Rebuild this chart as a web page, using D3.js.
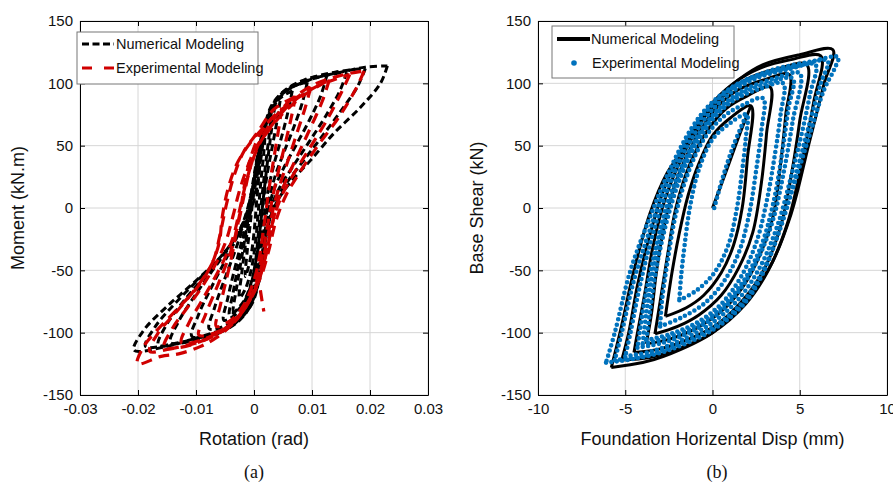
<!DOCTYPE html>
<html><head><meta charset="utf-8">
<script src="https://cdn.jsdelivr.net/npm/d3@7"></script>
<style>body{margin:0;background:#fff}svg{display:block}</style>
</head><body>
<svg id="c" width="893" height="484"></svg>
<script>
// ---------- DATA ----------
const xTicksA = [-0.03,-0.02,-0.01,0,0.01,0.02,0.03];
const xTickLabelsA = ["-0.03","-0.02","-0.01","0","0.01","0.02","0.03"];
const yTicks = [-150,-100,-50,0,50,100,150];
const yTickLabels = ["-150","-100","-50","0","50","100","150"];
const xTicksB = [-10,-5,0,5,10];
const xTickLabelsB = ["-10","-5","0","5","10"];

// Panel (a): Moment (kN.m) vs Rotation (rad)
const numLoopsA = [
 [[0.023,114],[0.0218,100],[0.0184,81],[0.0138,60],[0.0097,38],[0.0069,24],[0.0046,10],[0.0030,-5],[0.0018,-30],[0.0008,-60],[-0.0015,-85],[-0.005,-98],[-0.0104,-105],[-0.015,-111],[-0.0207,-114],
  [-0.019,-98],[-0.015,-79],[-0.0104,-60],[-0.0063,-42],[-0.0035,-26],[-0.0012,-10],[0.0002,10],[0.0012,40],[0.0023,70],[0.0051,92],[0.0097,103],[0.015,109],[0.0192,113],[0.023,114]],
 [[0.0192,112],[0.0178,97],[0.0150,78],[0.0115,56],[0.0082,36],[0.0056,20],[0.0036,5],[0.0022,-20],[0.0012,-50],[-0.0005,-78],[-0.004,-94],[-0.009,-103],[-0.014,-109],[-0.0187,-111],
  [-0.017,-95],[-0.0135,-76],[-0.0095,-57],[-0.0058,-40],[-0.003,-22],[-0.001,-5],[0.0003,20],[0.0013,48],[0.0026,75],[0.005,93],[0.009,103],[0.014,109],[0.0192,112]],
 [[0.016,109],[0.0148,94],[0.0124,74],[0.0095,53],[0.0068,34],[0.0045,17],[0.0029,0],[0.0018,-28],[0.0008,-58],[-0.0008,-80],[-0.004,-95],[-0.008,-103],[-0.0125,-108],[-0.0165,-110],
  [-0.015,-93],[-0.012,-74],[-0.0085,-55],[-0.0052,-37],[-0.0027,-20],[-0.0008,0],[0.0004,28],[0.0015,55],[0.0028,78],[0.005,92],[0.0085,101],[0.012,106],[0.016,109]],
 [[0.0126,107],[0.0115,90],[0.0095,70],[0.0072,50],[0.005,31],[0.0033,13],[0.0022,-10],[0.0013,-40],[0.0003,-66],[-0.002,-86],[-0.0055,-99],[-0.0095,-105],[-0.0144,-108],
  [-0.013,-91],[-0.0103,-71],[-0.0073,-51],[-0.0045,-33],[-0.0022,-15],[-0.0006,5],[0.0005,33],[0.0016,60],[0.003,82],[0.0055,95],[0.0088,103],[0.0126,107]],
 [[0.0092,101],[0.0083,84],[0.0068,64],[0.0051,44],[0.0036,25],[0.0025,5],[0.0016,-22],[0.0008,-50],[-0.0004,-72],[-0.0025,-89],[-0.0058,-99],[-0.0107,-103],
  [-0.0096,-86],[-0.0076,-66],[-0.0054,-46],[-0.0033,-27],[-0.0016,-8],[-0.0003,15],[0.0008,42],[0.0019,66],[0.0035,85],[0.006,96],[0.0092,101]],
 [[0.0066,94],[0.0058,76],[0.0047,56],[0.0035,36],[0.0025,16],[0.0017,-8],[0.001,-35],[0.0001,-60],[-0.0015,-80],[-0.004,-92],[-0.0077,-97],
  [-0.0068,-80],[-0.0053,-60],[-0.0037,-40],[-0.0022,-20],[-0.001,0],[0.0001,25],[0.0011,50],[0.0024,72],[0.0042,87],[0.0066,94]],
 [[0.0045,86],[0.0039,68],[0.0031,48],[0.0023,28],[0.0016,5],[0.001,-22],[0.0003,-48],[-0.0008,-70],[-0.0028,-84],[-0.0052,-90],
  [-0.0045,-72],[-0.0035,-52],[-0.0024,-32],[-0.0013,-12],[-0.0004,10],[0.0005,35],[0.0015,60],[0.0029,78],[0.0045,86]],
 [[0.0036,82],[0.003,62],[0.0024,40],[0.0018,16],[0.0012,-10],[0.0005,-38],[-0.0005,-60],[-0.0018,-75],[-0.0042,-86],
  [-0.0036,-68],[-0.0028,-48],[-0.0019,-26],[-0.001,-4],[-0.0002,20],[0.0008,46],[0.002,68],[0.0036,82]],
 [[0.003,78],[0.0026,58],[0.002,35],[0.0014,10],[0.0008,-18],[0.0002,-45],[-0.0008,-66],[-0.0022,-79],[-0.0035,-84],
  [-0.003,-64],[-0.0022,-42],[-0.0014,-20],[-0.0006,3],[0.0002,28],[0.0011,52],[0.0021,70],[0.003,78]],
 [[0.002,65],[0.0017,45],[0.0012,22],[0.0007,-5],[0.0002,-30],[-0.0006,-52],[-0.0016,-66],[-0.0025,-72],
  [-0.0021,-52],[-0.0015,-30],[-0.0008,-8],[-0.0002,15],[0.0005,38],[0.0013,56],[0.002,65]],
 [[0.0012,50],[0.0009,30],[0.0005,8],[0.0001,-15],[-0.0004,-35],[-0.001,-48],[-0.0015,-55],
  [-0.0012,-36],[-0.0007,-15],[-0.0002,7],[0.0004,28],[0.0009,42],[0.0012,50]]
];

const expLoopsA = [
 [[0.019,110],[0.0175,95],[0.0145,72],[0.011,50],[0.0078,28],[0.0055,10],[0.0038,-10],[0.0025,-35],[0.0012,-55],[-0.001,-75],[-0.0035,-92],[-0.0065,-104],[-0.0092,-111],[-0.013,-117],[-0.016,-119],[-0.0201,-125],
  [-0.019,-111],[-0.0165,-97],[-0.013,-80],[-0.0095,-62],[-0.007,-42],[-0.0058,-20],[-0.0048,2],[-0.0035,25],[-0.0018,45],[0.0005,60],[0.0034,79],[0.0069,89],[0.0103,99],[0.0155,107],[0.019,110]],
 [[0.0165,107],[0.015,92],[0.0125,70],[0.0096,48],[0.0068,27],[0.0048,10],[0.0034,-8],[0.0024,-30],[0.0015,-48],[0.0,-68],[-0.003,-88],[-0.0065,-101],[-0.011,-110],[-0.0145,-113],[-0.018,-115],
  [-0.0165,-100],[-0.0135,-84],[-0.0103,-66],[-0.0075,-47],[-0.006,-28],[-0.0055,-8],[-0.0045,15],[-0.003,35],[-0.001,50],[0.0015,64],[0.004,76],[0.0075,88],[0.011,98],[0.0165,107]],
 [[0.013,103],[0.0118,86],[0.0098,65],[0.0077,44],[0.0058,25],[0.0043,8],[0.0032,-12],[0.0023,-32],[0.0012,-52],[-0.0005,-72],[-0.0035,-92],[-0.0075,-104],[-0.0115,-110],[-0.0155,-112],
  [-0.014,-96],[-0.0115,-80],[-0.0088,-62],[-0.0065,-44],[-0.0048,-26],[-0.0036,-6],[-0.0025,14],[-0.0012,32],[0.0003,48],[0.0025,62],[0.005,76],[0.0085,90],[0.013,103]],
 [[0.0098,97],[0.0088,80],[0.0074,60],[0.006,40],[0.0047,22],[0.0036,5],[0.0027,-15],[0.0018,-36],[0.0008,-56],[-0.001,-76],[-0.004,-93],[-0.008,-104],[-0.0125,-108],
  [-0.0112,-92],[-0.0092,-76],[-0.007,-58],[-0.005,-40],[-0.0035,-22],[-0.0025,-2],[-0.0015,18],[-0.0004,36],[0.001,52],[0.003,66],[0.0055,80],[0.0075,89],[0.0098,97]],
 [[0.0072,90],[0.0064,72],[0.0054,52],[0.0044,33],[0.0035,15],[0.0027,-4],[0.002,-24],[0.0012,-44],[0.0001,-64],[-0.0018,-82],[-0.0048,-96],[-0.0095,-102],
  [-0.0084,-86],[-0.0068,-68],[-0.0052,-50],[-0.0038,-32],[-0.0027,-12],[-0.0018,8],[-0.001,26],[0.0,42],[0.0015,58],[0.0035,72],[0.0055,83],[0.0072,90]],
 [[0.0048,80],[0.0042,62],[0.0035,42],[0.0028,22],[0.0022,2],[0.0016,-18],[0.001,-38],[0.0,-58],[-0.0018,-78],[-0.004,-90],[-0.0065,-95],
  [-0.0058,-78],[-0.0048,-58],[-0.0038,-38],[-0.003,-18],[-0.0022,2],[-0.0015,22],[-0.0006,40],[0.0006,55],[0.002,66],[0.0035,74],[0.0048,80]],
 [[0.0011,-66],[0.0014,-75],[0.0017,-83]]
];

// Panel (b): Base Shear (kN) vs Foundation displacement (mm)
const numLoopsB = [
 [[0,0],[0.8,30],[1.5,57],[2.2,82]],
 [[-2.7,-87],[-1.5,-80],[-0.5,-70],[0.5,-52],[1.2,-30],[1.7,0],[2.0,40],[2.2,82],
  [1.0,72],[0,58],[-0.8,35],[-1.4,10],[-1.9,-20],[-2.3,-50],[-2.7,-87]],
 [[-3.3,-101],[-2.0,-95],[-0.8,-86],[0.5,-70],[1.5,-48],[2.3,-20],[2.8,20],[3.1,60],[3.3,97],
  [2.0,90],[0.8,80],[-0.3,62],[-1.3,35],[-2.1,0],[-2.6,-40],[-3.0,-75],[-3.3,-101]],
 [[-3.8,-109],[-2.4,-105],[-1.0,-97],[0.5,-83],[1.8,-62],[2.8,-35],[3.5,-5],[3.9,35],[4.2,75],[4.4,107],
  [3.0,103],[1.5,95],[0.2,80],[-1.0,55],[-2.0,25],[-2.7,-10],[-3.2,-50],[-3.5,-85],[-3.8,-109]],
 [[-4.5,-116],[-3.0,-113],[-1.5,-106],[0.2,-94],[1.8,-73],[3.0,-48],[3.9,-15],[4.5,25],[5.0,70],[5.4,115],
  [3.8,112],[2.2,105],[0.8,92],[-0.5,72],[-1.7,42],[-2.7,8],[-3.4,-30],[-3.9,-70],[-4.3,-100],[-4.5,-116]],
 [[-5.2,-122],[-3.6,-120],[-2.0,-113],[0,-100],[1.9,-77],[3.2,-50],[4.3,-12],[5.1,35],[5.8,85],[6.2,122],
  [4.5,119],[2.7,112],[1.2,100],[-0.2,81],[-1.5,52],[-2.7,18],[-3.6,-22],[-4.3,-62],[-4.8,-100],[-5.2,-122]],
 [[-5.8,-128],[-4.0,-124],[-2.8,-119],[0,-100],[1.9,-74],[3.3,-47],[4.5,-5],[5.5,50],[6.4,100],[6.9,127],
  [5.0,123],[2.9,115],[1.5,103],[0,84],[-1.0,60],[-2.6,28],[-3.6,-5],[-4.5,-50],[-5.3,-100],[-5.8,-128]]
];

const expLoopsB = [
 [[0.1,0],[0.6,25],[1.2,50],[1.95,75]],
 [[-1.9,-74],[-0.9,-66],[0.1,-52],[0.9,-30],[1.4,0],[1.7,30],[1.9,55],[1.95,75],
  [1.0,68],[0,55],[-0.8,30],[-1.3,0],[-1.6,-30],[-1.8,-55],[-1.9,-74]],
 [[-3.0,-95],[-1.8,-88],[-0.5,-77],[0.6,-60],[1.5,-36],[2.1,-5],[2.5,30],[2.8,62],[2.9,88],
  [1.8,83],[0.6,73],[-0.5,55],[-1.4,28],[-2.1,-5],[-2.6,-45],[-2.9,-75],[-3.0,-95]],
 [[-3.8,-106],[-2.4,-101],[-0.9,-92],[0.5,-77],[1.6,-56],[2.5,-28],[3.1,5],[3.6,45],[3.9,75],[4.05,100],
  [2.8,96],[1.4,88],[0.2,74],[-0.9,52],[-1.9,22],[-2.7,-15],[-3.3,-55],[-3.6,-85],[-3.8,-106]],
 [[-4.0,-109],[-2.6,-104],[-1.0,-95],[0.5,-80],[1.8,-58],[2.8,-30],[3.5,5],[4.0,45],[4.35,80],[4.6,104],
  [3.2,100],[1.7,92],[0.4,78],[-0.8,57],[-1.8,28],[-2.7,-8],[-3.4,-50],[-3.8,-85],[-4.0,-109]],
 [[-4.3,-112],[-2.8,-108],[-1.2,-99],[0.4,-84],[1.7,-63],[2.7,-38],[3.5,-8],[4.1,30],[4.6,70],[5.0,108],
  [3.6,104],[2.0,96],[0.6,83],[-0.6,63],[-1.7,35],[-2.6,3],[-3.3,-35],[-3.9,-75],[-4.3,-112]],
 [[-5.0,-119],[-3.5,-115],[-1.8,-106],[0,-92],[1.5,-73],[2.7,-48],[3.7,-15],[4.5,25],[5.2,65],[5.6,92],[5.9,115],
  [4.3,111],[2.5,104],[1.0,92],[-0.3,74],[-1.5,48],[-2.6,14],[-3.5,-25],[-4.2,-65],[-4.7,-100],[-5.0,-119]],
 [[-5.6,-122],[-4.0,-119],[-2.2,-111],[0,-96],[1.7,-76],[2.9,-50],[3.9,-14],[4.8,28],[5.6,70],[6.2,100],[6.6,118],
  [4.9,114],[3.0,108],[1.2,97],[-0.2,80],[-1.4,56],[-2.6,20],[-3.6,-18],[-4.5,-58],[-5.2,-100],[-5.6,-122]],
 [[-6.1,-124],[-4.5,-121],[-2.5,-114],[0,-98],[1.8,-77],[2.8,-55],[3.8,-20],[4.7,20],[5.6,60],[6.4,95],[7.0,112],[7.2,121],
  [5.5,117],[3.5,111],[1.5,100],[0,85],[-1.2,64],[-2.6,26],[-3.6,-8],[-4.7,-50],[-5.6,-100],[-6.1,-124]]
];

// ---------- DRAW ----------
const svg = d3.select("#c");
const FONT = "'Liberation Sans', Arial, Helvetica, sans-serif";
const RED = "#d00000", BLUE = "#0072bd";

function panel(cfg){
  const x = d3.scaleLinear().domain(cfg.xd).range([cfg.x0, cfg.x1]);
  const y = d3.scaleLinear().domain([-150,150]).range([395,21]);
  const g = svg.append("g");
  g.append("g").selectAll("line").data(cfg.xt).join("line")
    .attr("x1",d=>x(d)).attr("x2",d=>x(d)).attr("y1",21).attr("y2",395)
    .attr("stroke","#d6d6d6").attr("stroke-width",1);
  g.append("g").selectAll("line").data(yTicks).join("line")
    .attr("x1",cfg.x0).attr("x2",cfg.x1).attr("y1",d=>y(d)).attr("y2",d=>y(d))
    .attr("stroke","#d6d6d6").attr("stroke-width",1);
  const fmtX = (d,i)=>cfg.xl[i], fmtY=(d,i)=>yTickLabels[i];
  const ax = [
    g.append("g").attr("transform","translate(0,395)").call(d3.axisBottom(x).tickValues(cfg.xt).tickFormat(fmtX).tickSizeInner(-5).tickSizeOuter(0).tickPadding(8)),
    g.append("g").attr("transform","translate(0,21)").call(d3.axisTop(x).tickValues(cfg.xt).tickFormat("").tickSizeInner(-5).tickSizeOuter(0)),
    g.append("g").attr("transform",`translate(${cfg.x0},0)`).call(d3.axisLeft(y).tickValues(yTicks).tickFormat(fmtY).tickSizeInner(-5).tickSizeOuter(0).tickPadding(7)),
    g.append("g").attr("transform",`translate(${cfg.x1},0)`).call(d3.axisRight(y).tickValues(yTicks).tickFormat("").tickSizeInner(-5).tickSizeOuter(0))
  ];
  ax.forEach(a=>{a.selectAll("text").attr("font-family",FONT).attr("font-size",15).attr("fill","#111");
    a.select(".domain").attr("stroke","#000");a.selectAll(".tick line").attr("stroke","#000");});
  g.append("text").attr("x",(cfg.x0+cfg.x1)/2).attr("y",445).attr("text-anchor","middle")
    .attr("font-family",FONT).attr("font-size",18).attr("fill","#111").text(cfg.xTitle);
  g.append("text").attr("transform",`translate(${cfg.yTitleX},208) rotate(-90)`).attr("text-anchor","middle")
    .attr("font-family",FONT).attr("font-size",18).attr("fill","#111").text(cfg.yTitle);
  g.append("text").attr("x",cfg.capX).attr("y",478).attr("text-anchor","middle")
    .attr("font-family","'Liberation Serif','Times New Roman',serif").attr("font-size",18).attr("fill","#111").text(cfg.cap);
  return {g,x,y};
}

const A = panel({xd:[-0.03,0.03],x0:80,x1:428,xt:xTicksA,xl:xTickLabelsA,xTitle:"Rotation (rad)",yTitle:"Moment (kN.m)",yTitleX:24,cap:"(a)",capX:254});
const B = panel({xd:[-10,10],x0:538,x1:887,xt:xTicksB,xl:xTickLabelsB,xTitle:"Foundation Horizental Disp (mm)",yTitle:"Base Shear (kN)",yTitleX:483,cap:"(b)",capX:717});

const lineA = d3.line().x(d=>A.x(d[0])).y(d=>A.y(d[1])).curve(d3.curveCatmullRom.alpha(0.5));
const lineB = d3.line().x(d=>B.x(d[0])).y(d=>B.y(d[1])).curve(d3.curveCatmullRom.alpha(0.5));

A.g.append("g").selectAll("path").data(numLoopsA).join("path")
  .attr("d",lineA).attr("fill","none").attr("stroke","#000").attr("stroke-width",3).attr("stroke-dasharray","7,4");
A.g.append("g").selectAll("path").data(expLoopsA).join("path")
  .attr("d",lineA).attr("fill","none").attr("stroke",RED).attr("stroke-width",3.2).attr("stroke-dasharray","11,7");

B.g.append("g").selectAll("path").data(numLoopsB).join("path")
  .attr("d",lineB).attr("fill","none").attr("stroke","#000").attr("stroke-width",3);
B.g.append("g").selectAll("path").data(expLoopsB).join("path")
  .attr("d",lineB).attr("fill","none").attr("stroke",BLUE).attr("stroke-width",4.6)
  .attr("stroke-linecap","round").attr("stroke-dasharray","0,5.4");

function legend(x0,y0,w,h,items){
  const g = svg.append("g");
  g.append("rect").attr("x",x0).attr("y",y0).attr("width",w).attr("height",h).attr("fill","#fff").attr("stroke","#777").attr("stroke-width",1);
  items.forEach(it=>{
    if(it.type==="line") g.append("line").attr("x1",it.lx0).attr("x2",it.lx1).attr("y1",it.y).attr("y2",it.y)
      .attr("stroke",it.color).attr("stroke-width",it.sw).attr("stroke-dasharray",it.dash||null);
    else g.append("circle").attr("cx",it.lx0).attr("cy",it.y).attr("r",2.8).attr("fill",it.color);
    g.append("text").attr("x",it.tx).attr("y",it.y+5).attr("font-family",FONT).attr("font-size",14.5).attr("fill","#111").text(it.label);
  });
}
legend(77,32,181,52,[
  {type:"line",lx0:82,lx1:114,y:44,color:"#000",sw:3.2,dash:"7,3.5",tx:116,label:"Numerical Modeling"},
  {type:"line",lx0:82,lx1:114,y:68,color:RED,sw:3.2,dash:"10,12",tx:116,label:"Experimental Modeling"}
]);
legend(552,26,182,52,[
  {type:"line",lx0:557,lx1:590,y:39,color:"#000",sw:4,tx:591,label:"Numerical Modeling"},
  {type:"dot",lx0:574,y:63,color:BLUE,tx:592,label:"Experimental Modeling"}
]);
</script>
</body></html>
